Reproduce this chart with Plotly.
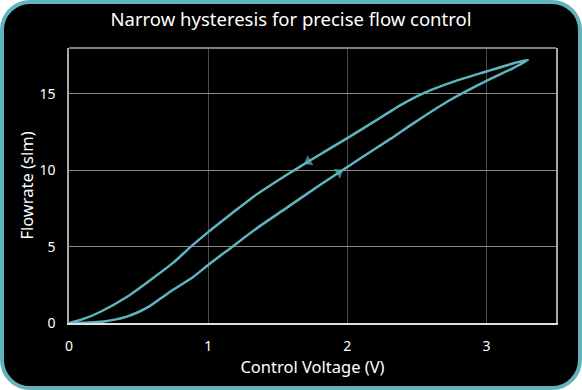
import plotly.graph_objects as go

# ---- data ----
rise_x = [0, 0.15, 0.25, 0.33, 0.415, 0.5, 0.58, 0.727, 0.895, 1.0, 1.16, 1.34, 1.566, 1.806, 1.94, 2.09, 2.31, 2.48, 2.72, 3.0, 3.196, 3.30]
rise_y = [0, 0.03, 0.1, 0.22, 0.42, 0.72, 1.1, 2.05, 3.03, 3.8, 4.9, 6.14, 7.55, 9.05, 9.85, 10.75, 12.05, 13.1, 14.5, 15.85, 16.7, 17.22]
fall_x = [3.30, 3.196, 3.0, 2.765, 2.55, 2.38, 2.24, 2.0, 1.72, 1.566, 1.326, 1.16, 1.0, 0.87, 0.75, 0.583, 0.415, 0.223, 0.1, 0]
fall_y = [17.22, 17.0, 16.46, 15.8, 15.05, 14.25, 13.45, 12.1, 10.57, 9.7, 8.27, 7.1, 5.95, 4.95, 3.95, 2.8, 1.7, 0.72, 0.25, 0]
arrow_rise_x = 1.94
arrow_fall_x = 1.72
x_ticks = [0, 1, 2, 3]
y_ticks = [0, 5, 10, 15]

TEAL = "#5db6bf"
FONT = "Noto Sans"

W, H = 582, 390
L, R, T, B = 69, 26, 48, 67
pw, ph = W - L - R, H - T - B

def px2paper(px, py):
    return (px - L) / pw, (H - B - py) / ph

def rounded_path(x0, y0, x1, y1, r):
    k = 0.5523 * r
    def P(x, y):
        a, b = px2paper(x, y)
        return f"{a:.5f},{b:.5f}"
    s = f"M{P(x0 + r, y0)} L{P(x1 - r, y0)} "
    s += f"C{P(x1 - r + k, y0)} {P(x1, y0 + r - k)} {P(x1, y0 + r)} "
    s += f"L{P(x1, y1 - r)} "
    s += f"C{P(x1, y1 - r + k)} {P(x1 - r + k, y1)} {P(x1 - r, y1)} "
    s += f"L{P(x0 + r, y1)} "
    s += f"C{P(x0 + r - k, y1)} {P(x0, y1 - r + k)} {P(x0, y1 - r)} "
    s += f"L{P(x0, y0 + r)} "
    s += f"C{P(x0, y0 + r - k)} {P(x0 + r - k, y0)} {P(x0 + r, y0)} Z"
    return s

xs = rise_x + fall_x[1:]
ys = rise_y + fall_y[1:]
sizes = [0] * len(xs)
sizes[rise_x.index(arrow_rise_x)] = 10
sizes[len(rise_x) - 1 + fall_x.index(arrow_fall_x)] = 10

fig = go.Figure()
fig.add_trace(go.Scatter(
    x=xs, y=ys, mode="lines+markers",
    line=dict(color=TEAL, width=2.5, shape="spline", smoothing=0.6),
    marker=dict(symbol="triangle-up", size=sizes, color=TEAL, angleref="previous",
                line=dict(width=0)),
    showlegend=False, hoverinfo="skip",
))

fig.add_shape(type="path", xref="paper", yref="paper", layer="below",
              path=rounded_path(2, 2, W - 2, H - 2, 28),
              fillcolor="black", line=dict(color="#63b3bd", width=4))
fig.add_shape(type="line", xref="paper", yref="paper", x0=0, x1=1, y0=1, y1=1,
              line=dict(color="#a8a8a8", width=1.5), layer="above")

fig.update_layout(
    width=W, height=H,
    margin=dict(l=L, r=R, t=T, b=B),
    paper_bgcolor="white", plot_bgcolor="rgba(0,0,0,0)",
    font=dict(family=FONT, color="white", size=14),
    title=dict(text="Narrow hysteresis for precise flow control", x=0.5, xref="container",
               xanchor="center", y=1 - 20 / H, yanchor="middle", yref="container",
               font=dict(size=18.5, color="white", family=FONT)),
)
fig.update_xaxes(range=[0, 3.5], tickvals=x_ticks, ticktext=[str(v) for v in x_ticks],
                 showgrid=True, gridcolor="#4a4a4a", gridwidth=1, zeroline=False,
                 showline=True, linecolor="#e0e0e0", linewidth=1.5,
                 ticks="outside", ticklen=9, tickcolor="rgba(0,0,0,0)",
                 title=dict(text="Control Voltage (V)", font=dict(size=16.5), standoff=6),
                 tickfont=dict(size=14))
fig.update_yaxes(range=[0, 18], tickvals=y_ticks, ticktext=[str(v) for v in y_ticks],
                 showgrid=True, gridcolor="#8a8a8a", gridwidth=1, zeroline=False,
                 showline=True, linecolor="#a8a8a8", linewidth=1.5, mirror=True,
                 ticks="outside", ticklen=9, tickcolor="rgba(0,0,0,0)",
                 title=dict(text="Flowrate (slm)", font=dict(size=16.5), standoff=2),
                 tickfont=dict(size=14))

fig.write_html("out.html", config={"displayModeBar": False},
               post_script="document.body.style.margin='0';")
